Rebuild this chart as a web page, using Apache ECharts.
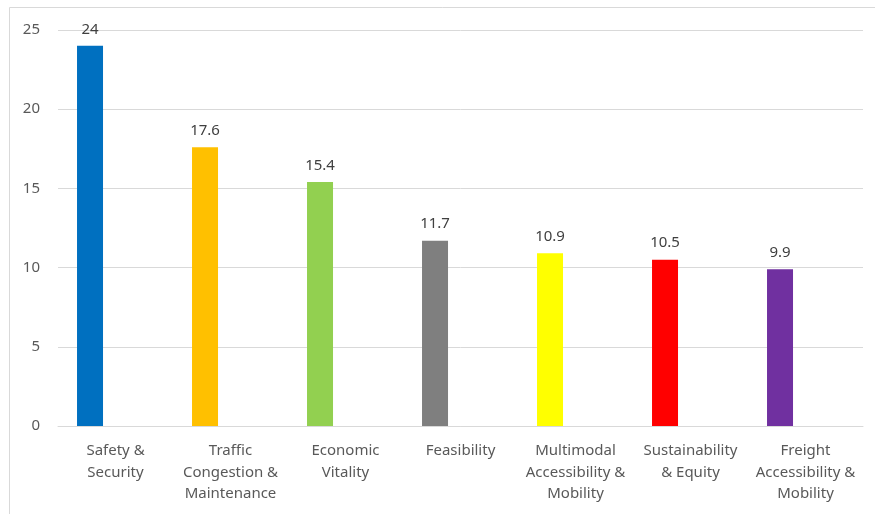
<!DOCTYPE html>
<html>
<head>
<meta charset="utf-8">
<script src="https://cdn.jsdelivr.net/npm/echarts@6/dist/echarts.min.js"></script>
<style>
  html, body { margin: 0; padding: 0; background: #fff; }
  #chart { width: 875px; height: 514px; }
</style>
</head>
<body>
<div id="chart"></div>
<script>
// Categories (line breaks as laid out under the axis)
const categories = [
  'Safety &\nSecurity',
  'Traffic\nCongestion &\nMaintenance',
  'Economic\nVitality',
  'Feasibility',
  'Multimodal\nAccessibility &\nMobility',
  'Sustainability\n& Equity',
  'Freight\nAccessibility &\nMobility'
];
const scores = [24, 17.6, 15.4, 11.7, 10.9, 10.5, 9.9];
const barColors = ['#0070C0', '#FFC000', '#92D050', '#7F7F7F', '#FFFF00', '#FF0000', '#7030A0'];
// Second, empty series slot keeps each bar on the left of its category
const emptySlot = [null, null, null, null, null, null, null];
const yTicks = { min: 0, max: 25, interval: 5 };

const FONT = 'Noto Sans';
const chart = echarts.init(document.getElementById('chart'), null, { renderer: 'canvas' });

chart.setOption({
  animation: false,
  backgroundColor: '#ffffff',
  textStyle: { fontFamily: FONT },
  graphic: [{
    type: 'rect',
    shape: { x: 9.5, y: 7.5, width: 900, height: 520 },
    style: { fill: 'none', stroke: '#d9d9d9', lineWidth: 1 },
    silent: true
  }],
  grid: { left: 58, right: 12, top: 30, bottom: 88, containLabel: false },
  xAxis: {
    type: 'category',
    data: categories,
    axisLine: { show: true, lineStyle: { color: '#d9d9d9', width: 1 } },
    axisTick: { show: false },
    axisLabel: {
      interval: 0,
      color: '#595959',
      fontSize: 15,
      lineHeight: 21.5,
      margin: 14,
      fontFamily: FONT
    }
  },
  yAxis: {
    type: 'value',
    min: yTicks.min,
    max: yTicks.max,
    interval: yTicks.interval,
    axisLine: { show: false },
    axisTick: { show: false },
    splitLine: { lineStyle: { color: '#d9d9d9', width: 1 } },
    axisLabel: { color: '#595959', fontSize: 15, margin: 18, fontFamily: FONT }
  },
  series: [
    {
      type: 'bar',
      name: 'Score',
      barWidth: 26,
      barGap: '96%',
      data: scores.map((v, i) => ({ value: v, itemStyle: { color: barColors[i] } })),
      label: {
        show: true,
        position: 'top',
        distance: 9,
        color: '#404040',
        fontSize: 15,
        fontFamily: FONT
      }
    },
    {
      type: 'bar',
      name: 'Empty',
      barWidth: 26,
      data: emptySlot
    }
  ]
});
</script>
</body>
</html>
